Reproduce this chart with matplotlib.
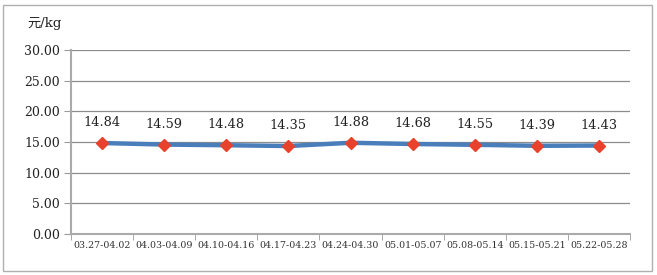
import matplotlib
matplotlib.use("Agg")
import matplotlib.pyplot as plt
from matplotlib.patches import Rectangle

categories = ["03.27-04.02", "04.03-04.09", "04.10-04.16", "04.17-04.23", "04.24-04.30",
              "05.01-05.07", "05.08-05.14", "05.15-05.21", "05.22-05.28"]
values = [14.84, 14.59, 14.48, 14.35, 14.88, 14.68, 14.55, 14.39, 14.43]
yticks = [0, 5, 10, 15, 20, 25, 30]
ytick_labels = ["0.00", "5.00", "10.00", "15.00", "20.00", "25.00", "30.00"]
unit_label = "元/kg"

NUMFONT = ['DejaVu Serif']
plt.rcParams['font.family'] = ['DejaVu Serif', 'Noto Sans CJK SC']

fig = plt.figure(figsize=(6.57, 2.75), dpi=100)
ax = fig.add_axes([0.108, 0.149, 0.851, 0.669])

x = list(range(len(categories)))
ax.plot(x, values, color="#4a7ebb", linewidth=3.2, solid_capstyle="round", zorder=3)
ax.plot(x, values, linestyle="none", marker="D", markersize=6, color="#e8412c",
        markeredgecolor="#e8412c", zorder=4)
for xi, v in zip(x, values):
    ax.annotate(f"{v:.2f}", (xi, v), xytext=(0, 10), textcoords="offset points",
                ha="center", va="bottom", fontsize=9.3, color="#222222", family=NUMFONT)

ax.set_xlim(-0.5, len(categories) - 0.5)
ax.set_ylim(0, 30)
ax.set_yticks(yticks)
ax.set_yticklabels(ytick_labels, fontsize=9, family=NUMFONT, color="#222222")
ax.set_xticks(x)
ax.set_xticklabels(categories, fontsize=6.8, family=NUMFONT, color="#333333")
ax.set_xticks([i - 0.5 for i in range(len(categories) + 1)], minor=True)
ax.tick_params(axis="x", which="major", length=0, pad=5)
ax.tick_params(axis="x", which="minor", length=4, color="#999999", direction="out")
ax.tick_params(axis="y", length=5, color="#999999", direction="out", pad=3)
ax.grid(axis="y", color="#8c8c8c", linewidth=0.9)
ax.set_axisbelow(True)
for s in ["top", "right"]:
    ax.spines[s].set_visible(False)
ax.spines["left"].set_color("#aaaaaa")
ax.spines["left"].set_linewidth(1.5)
ax.spines["bottom"].set_color("#aaaaaa")
ax.spines["bottom"].set_linewidth(1.5)

fig.text(27 / 657, 1 - 24 / 275, unit_label, fontsize=9.5, va="center", ha="left",
         family=['DejaVu Serif', 'Noto Sans CJK SC'], color="#222222")

fig.patches.append(Rectangle((3 / 657, 4 / 275), 649 / 657, 266 / 275, transform=fig.transFigure,
                             fill=False, edgecolor="#b0b0b0", linewidth=1))

fig.savefig("out.png", dpi=100)
